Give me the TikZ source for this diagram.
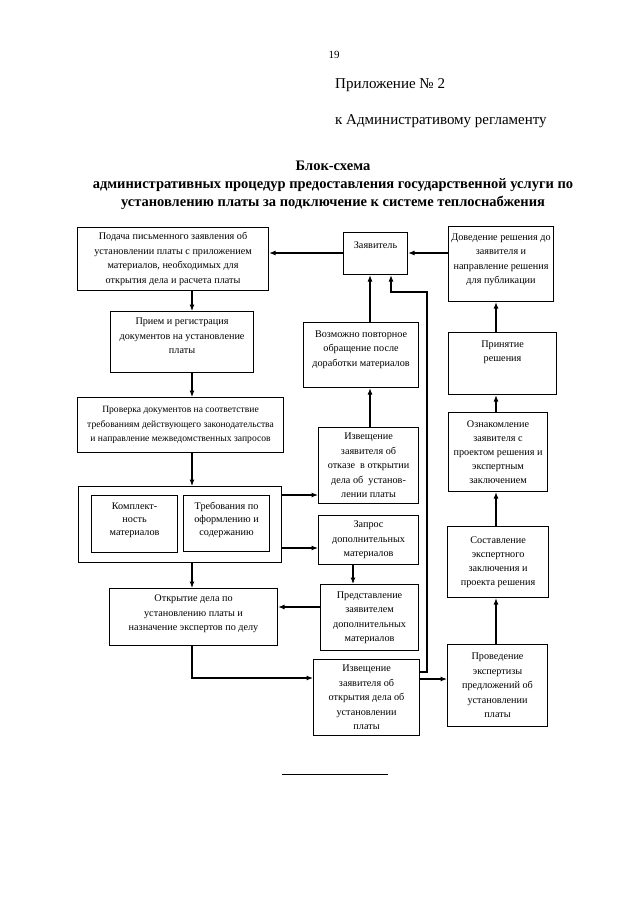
\documentclass[tikz,border=0pt]{standalone}
\usepackage{fontspec}
\setmainfont{Liberation Serif}
\usetikzlibrary{arrows.meta}
\tikzset{
  box/.style={draw, line width=1.1pt, align=center, inner sep=1pt, anchor=north west,
    font=\fontsize{10.2}{14.5}\selectfont},
  arr/.style={line width=1.1pt, -{Latex[length=6.5pt,width=5pt]}},
  ln/.style={line width=1.1pt},
  hdr/.style={inner sep=0pt, font=\fontsize{15}{18}\selectfont, anchor=west},
  ttl/.style={inner sep=0pt, font=\bfseries\fontsize{14.5}{18}\selectfont}
}
\begin{document}
\begin{tikzpicture}[x=1pt,y=-1pt]
\useasboundingbox[fill=white] (0,0) rectangle (640,905);
% header
\node[inner sep=0pt, font=\fontsize{11}{13}\selectfont] (pg) at (334,55) {19};
\node[hdr] (pril) at (335,85) {Приложение № 2};
\node[hdr] (kadm) at (335,121) {к Административому регламенту};
\node[ttl] (t1) at (333,166) {Блок-схема};
\node[ttl] (t2) at (333,185) {административных процедур предоставления государственной услуги по};
\node[ttl] (t3) at (333,203) {установлению платы за подключение к системе теплоснабжения};
% guide coordinates
\coordinate (sp) at (192,0);
\coordinate (c370) at (370,0);
\coordinate (c353) at (353,0);
\coordinate (c391) at (391,0);
\coordinate (c427) at (427,0);
\coordinate (c496) at (496,0);
\coordinate (y253) at (0,253);
\coordinate (y292) at (0,292);
\coordinate (y495) at (0,495);
\coordinate (y548) at (0,548);
\coordinate (y607) at (0,607);
\coordinate (y672) at (0,672);
\coordinate (y678) at (0,678);
\coordinate (y679) at (0,679);
% left column
\node[box, minimum width=191pt, minimum height=63pt] (podacha) at (77,227)
  {Подача письменного заявления об\\установлении платы с приложением\\материалов, необходимых для\\открытия дела и расчета платы};
\node[box, minimum width=143pt, minimum height=61pt] (priem) at (110,311)
  {Прием и регистрация\\документов на установление\\платы\\[-2pt]};
\node[box, minimum width=206pt, minimum height=55pt, font=\fontsize{9.6}{14.5}\selectfont] (proverka) at (77,397)
  {Проверка документов на соответствие\\требованиям действующего законодательства\\и направление межведомственных запросов};
\node[box, minimum width=203pt, minimum height=76pt] (outer) at (78,486) {};
\node[box, minimum width=86pt, minimum height=57pt, font=\fontsize{10.2}{13}\selectfont] (kompl) at (91,495)
  {Комплект-\\ность\\материалов\\[-4pt]};
\node[box, minimum width=86pt, minimum height=56pt, font=\fontsize{10.2}{13}\selectfont] (treb) at (183,495)
  {Требования по\\оформлению и\\содержанию\\[-4pt]};
\node[box, minimum width=168pt, minimum height=57pt] (otkr) at (109,588)
  {Открытие дела по\\установлению платы и\\назначение экспертов по делу\\[-6pt]};
% middle column
\node[box, minimum width=64pt, minimum height=42pt] (zayav) at (343,232)
  {Заявитель\\[1.5pt]};
\node[box, minimum width=115pt, minimum height=65pt] (vozm) at (303,322)
  {Возможно повторное\\обращение после\\доработки материалов\\[-1pt]};
\node[box, minimum width=100pt, minimum height=76pt] (izvotk) at (318,427)
  {Извещение\\заявителя об\\отказе\ \ в открытии\\дела об\ \ установ-\\лении платы};
\node[box, minimum width=100pt, minimum height=49pt] (zapros) at (318,515)
  {Запрос\\дополнительных\\материалов};
\node[box, minimum width=98pt, minimum height=66pt] (predst) at (320,584)
  {Представление\\заявителем\\дополнительных\\материалов};
\node[box, minimum width=106pt, minimum height=76pt] (izvotkr) at (313,659)
  {Извещение\\заявителя об\\открытия дела об\\установлении\\платы};
% right column
\node[box, minimum width=105pt, minimum height=75pt] (doved) at (448,226)
  {Доведение решения до\\заявителя и\\направление решения\\для публикации\\[-3.5pt]};
\node[box, minimum width=108pt, minimum height=62pt] (prin) at (448,332)
  {Принятие\\решения\\[10pt]};
\node[box, minimum width=99pt, minimum height=79pt, font=\fontsize{10.2}{14}\selectfont] (oznak) at (448,412)
  {Ознакомление\\заявителя с\\проектом решения и\\экспертным\\заключением};
\node[box, minimum width=101pt, minimum height=71pt, font=\fontsize{10.2}{13.8}\selectfont] (sost) at (447,526)
  {Составление\\экспертного\\заключения и\\проекта решения};
\node[box, minimum width=100pt, minimum height=82pt] (proved) at (447,644)
  {Проведение\\экспертизы\\предложений об\\установлении\\платы};
% connectors left column
\draw[arr] (zayav.west |- y253) -- (podacha.east |- y253);
\draw[arr] (podacha.south -| sp) -- (priem.north -| sp);
\draw[arr] (priem.south -| sp) -- (proverka.north -| sp);
\draw[arr] (proverka.south -| sp) -- (outer.north -| sp);
\draw[arr] (outer.south -| sp) -- (otkr.north -| sp);
\draw[arr] (outer.east |- y495) -- (izvotk.west |- y495);
\draw[arr] (outer.east |- y548) -- (zapros.west |- y548);
\draw[arr] (otkr.south -| sp) |- (izvotkr.west |- y678);
% middle column
\draw[arr] (izvotk.north -| c370) -- (vozm.south -| c370);
\draw[arr] (vozm.north -| c370) -- (zayav.south -| c370);
\draw[arr] (zapros.south -| c353) -- (predst.north -| c353);
\draw[arr] (predst.west |- y607) -- (otkr.east |- y607);
\draw[arr] (izvotkr.east |- y672) -| (c427 |- y292) -| (zayav.south -| c391);
\draw[arr] (izvotkr.east |- y679) -- (proved.west |- y679);
% right column
\draw[arr] (doved.west |- y253) -- (zayav.east |- y253);
\draw[arr] (proved.north -| c496) -- (sost.south -| c496);
\draw[arr] (sost.north -| c496) -- (oznak.south -| c496);
\draw[arr] (oznak.north -| c496) -- (prin.south -| c496);
\draw[arr] (prin.north -| c496) -- (doved.south -| c496);
% separator rule
\coordinate (sepL) at (282,774);
\coordinate (sepR) at (388,774);
\draw[line width=0.9pt] (sepL) -- (sepR);
\end{tikzpicture}
\end{document}
